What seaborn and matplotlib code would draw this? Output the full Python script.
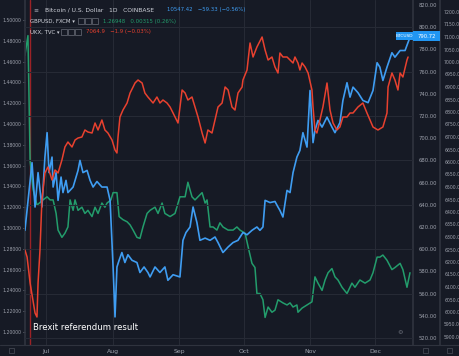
import matplotlib
matplotlib.use("Agg")
import matplotlib.pyplot as plt
import seaborn as sns
import numpy as np
from matplotlib.lines import Line2D
from matplotlib.patches import Rectangle, Circle

# ---------------- data (x = days relative to 1 Jul 2016) ----------------
btc_day = [-9.8, -6.5, -5.1, -3.7, -1.9, -0.5, 0.5, 1.4, 2.8, 3.3, 4.7, 5.6, 7.0, 7.9, 9.3, 10.2,
           12.6, 14.9, 15.8, 17.2, 19.1, 20.5, 21.9, 23.7, 26.0, 28.4, 29.8, 31.2, 32.1, 33.0, 34.0,
           35.3, 36.7, 38.1, 40.0, 42.3, 43.7, 45.6, 47.4, 48.4, 50.7, 53.0, 55.3, 56.7, 59.1, 62.3,
           63.7, 65.1, 67.0, 68.4, 70.2, 71.6, 74.0, 76.3, 78.6, 80.0, 82.3, 84.7, 87.0, 89.3, 91.6,
           93.5, 95.8, 98.1, 99.5, 100.9, 101.9, 104.2, 106.5, 107.9, 108.8, 110.2, 112.1, 113.5,
           114.9, 116.7, 118.1, 119.5, 121.4, 122.8, 124.2, 125.1, 126.5, 128.4, 130.7, 133.0, 134.4,
           136.7, 138.1, 140.0, 141.4, 142.8, 145.1, 147.4, 149.8, 152.1, 154.0, 155.3, 156.7, 158.6,
           160.9, 162.3, 164.7, 167.0, 169.3]
btc_usd = [617, 678, 638, 669, 638, 683, 705, 669, 683, 656, 669, 644, 665, 651, 662, 651,
           656, 671, 680, 669, 671, 662, 656, 661, 656, 656, 644, 584, 539, 584, 590,
           597, 588, 595, 590, 588, 579, 584, 579, 575, 584, 579, 584, 572, 577, 575,
           608, 615, 620, 638, 624, 608, 610, 608, 611, 606, 597, 602, 606, 608, 615,
           613, 617, 620, 617, 620, 644, 642, 643, 638, 635, 629, 653, 651,
           669, 683, 689, 705, 692, 743, 696, 707, 716, 710, 719, 710, 705,
           714, 734, 750, 737, 746, 741, 734, 732, 743, 768, 764, 752, 764,
           777, 773, 779, 779, 791]

gbp_day = [-9.8, -8.4, -7.4, -6.0, -4.2, -1.4, 0.5, 1.9, 3.3, 4.7, 5.6, 7.4, 8.8, 10.2, 11.2,
           12.6, 13.5, 14.9, 16.7, 18.1, 19.5, 21.4, 22.8, 24.2, 26.0, 27.4, 28.4, 30.2, 31.2,
           33.0, 34.0, 35.8, 37.7, 39.1, 40.5, 42.3, 43.7, 45.1, 47.0, 48.4, 50.7, 52.1, 54.0,
           55.3, 57.7, 60.0, 62.3, 64.7, 66.0, 67.9, 69.3, 70.7, 72.6, 74.0, 74.9, 76.3, 77.7,
           79.5, 80.9, 82.3, 84.7, 87.0, 88.8, 90.2, 92.6, 94.0, 95.8, 97.2, 98.1, 99.5, 100.9,
           101.9, 103.3, 105.1, 106.5, 107.9, 110.2, 112.1, 113.5, 114.9, 116.7, 117.2, 119.1,
           121.4, 123.7, 125.1, 126.5, 128.4, 129.8, 131.2, 133.0, 134.4, 135.8, 137.7, 140.0,
           142.3, 143.7, 146.0, 148.4, 150.7, 152.1, 154.0, 155.3, 156.7, 158.6, 160.9, 162.3,
           164.7, 166.0, 167.9, 169.3]
gbp_usd = [1.466, 1.485, 1.365, 1.337, 1.322, 1.327, 1.330, 1.327, 1.327, 1.314, 1.298, 1.291, 1.295, 1.301, 1.327,
           1.317, 1.327, 1.317, 1.320, 1.314, 1.317, 1.311, 1.320, 1.314, 1.324, 1.320, 1.324, 1.327, 1.334,
           1.334, 1.311, 1.308, 1.306, 1.303, 1.298, 1.291, 1.290, 1.301, 1.314, 1.317, 1.320, 1.314, 1.324,
           1.314, 1.311, 1.314, 1.330, 1.330, 1.344, 1.330, 1.327, 1.330, 1.334, 1.324, 1.327, 1.301, 1.301,
           1.298, 1.305, 1.301, 1.298, 1.298, 1.301, 1.298, 1.295, 1.282, 1.266, 1.262, 1.237, 1.237, 1.231,
           1.214, 1.224, 1.219, 1.221, 1.231, 1.228, 1.226, 1.228, 1.224, 1.226, 1.219, 1.223,
           1.226, 1.229, 1.253, 1.247, 1.240, 1.250, 1.257, 1.261, 1.253, 1.250, 1.243, 1.237,
           1.247, 1.243, 1.250, 1.247, 1.250, 1.257, 1.272, 1.272, 1.274, 1.269, 1.260, 1.262,
           1.266, 1.260, 1.243, 1.257]

ukx_day = [-9.8, -8.8, -7.4, -5.1, -4.2, -3.7, -2.8, -1.9, -0.5, 0.9, 2.8, 4.2, 5.6, 7.4, 8.8, 10.2,
           12.1, 13.5, 14.9, 16.7, 18.1, 19.5, 21.4, 22.8, 24.2, 26.0, 27.4, 28.8, 30.7, 32.1, 33.0,
           33.5, 34.4, 35.8, 37.7, 39.1, 40.5, 41.4, 42.8, 44.7, 46.0, 47.4, 49.8, 51.6, 53.0, 54.4,
           56.3, 57.7, 59.1, 61.4, 63.3, 64.7, 66.0, 67.9, 69.3, 70.7, 72.6, 74.0, 75.3, 77.2, 78.6,
           80.0, 81.9, 83.3, 84.7, 86.5, 87.9, 89.3, 91.2, 91.6, 93.5, 94.9, 96.3, 98.1, 100.5, 101.9,
           103.3, 105.1, 106.5, 107.9, 108.8, 110.2, 112.1, 113.5, 114.9, 115.8, 117.2, 118.1, 119.1,
           120.5, 121.9, 123.7, 124.2, 125.1, 126.0, 127.4, 128.8, 130.7, 132.1, 133.5, 135.3, 136.7,
           138.1, 140.0, 141.4, 142.8, 145.1, 147.4, 149.3, 150.7, 152.1, 154.4, 156.7, 158.6, 159.1,
           160.9, 162.3, 163.7, 164.7, 166.0, 167.9, 168.4]
ukx = [6248, 6220, 6116, 5996, 5980, 6116, 6248, 6448, 6556, 6580, 6528, 6568, 6556, 6608, 6660, 6680,
       6660, 6688, 6696, 6700, 6728, 6720, 6716, 6756, 6728, 6768, 6728, 6716, 6688, 6648, 6636,
       6700, 6780, 6808, 6836, 6876, 6900, 6916, 6928, 6916, 6876, 6860, 6836, 6860, 6836, 6848,
       6836, 6820, 6796, 6756, 6888, 6876, 6848, 6860, 6820, 6780, 6716, 6676, 6728, 6716, 6768,
       6820, 6836, 6900, 6888, 6820, 6808, 6876, 6900, 6928, 6968, 7076, 7020, 7060, 7100, 7048,
       7008, 7020, 6980, 6956, 7036, 7020, 7020, 7008, 6996, 7020, 6996, 6968, 6996,
       6980, 6956, 6888, 6820, 6728, 6716, 6768, 6820, 6916, 6808, 6756, 6728, 6740,
       6780, 6780, 6796, 6796, 6820, 6836, 6796, 6768, 6740, 6728, 6740, 6796, 6900,
       6956, 6928, 6888, 6956, 6940, 7008, 7020]

month_ticks = [0, 31, 62, 92, 123, 153]
month_labels = ["Jul", "Aug", "Sep", "Oct", "Nov", "Dec"]
brexit_day = -7.5

gbp_ticks = [1.20 + 0.02 * i for i in range(16)]
btc_ticks = list(range(520, 821, 20))
ukx_ticks = list(range(5900, 7201, 50))

# ---------------- styling ----------------
BG = "#161a25"
GRID = "#262a35"
TXT = "#9ea2ad"
BLUE = "#3f9df2"
RED = "#e8412f"
GREEN = "#239d6c"

sns.set_theme(style="dark")
plt.rcParams['font.family'] = ['DejaVu Sans']

fig = plt.figure(figsize=(4.6, 3.56), dpi=100, facecolor=BG)
W, H = 460, 356
ax = fig.add_axes([25 / W, 11 / H, 388 / W, 345 / H])
ax.set_facecolor(BG)
ax2 = ax.twinx()
ax3 = ax.twinx()
for a in (ax2, ax3):
    a.set_facecolor("none")

# gridlines
for m in month_ticks:
    ax.axvline(m, color=GRID, lw=0.8, zorder=0)
for v in range(520, 821, 40):
    ax2.axhline(v, color=GRID, lw=0.8, zorder=0)

# brexit marker
ax.axvline(brexit_day, color="#9b2226", lw=1.0, zorder=1)

sns.lineplot(x=gbp_day, y=gbp_usd, ax=ax, color=GREEN, lw=1.1, estimator=None, sort=False)
sns.lineplot(x=ukx_day, y=ukx, ax=ax3, color=RED, lw=1.1, estimator=None, sort=False)
sns.lineplot(x=btc_day, y=btc_usd, ax=ax2, color=BLUE, lw=1.2, estimator=None, sort=False)

ax.set_xlim(-9.77, 170.7)
ax.set_ylim(1.5 - 325 * 0.30 / 312, 1.5 + 20 * 0.30 / 312)
ax2.set_ylim(820 - 340 * 300 / 333, 820 + 5 * 300 / 333)
ax3.set_ylim(7200 - 333 * 4, 7200 + 12 * 4)

ax.set_xticks(month_ticks)
ax.set_xticklabels(month_labels)
ax.set_yticks(gbp_ticks)
ax.set_yticklabels([f"{t:.5f}" for t in gbp_ticks])
ax2.set_yticks(btc_ticks)
ax2.set_yticklabels([f"{t:.2f}" for t in btc_ticks])
ax3.set_yticks(ukx_ticks)
ax3.set_yticklabels([f"{t:.1f}" for t in ukx_ticks])

for a in (ax, ax2, ax3):
    a.set_xlabel("")
    a.set_ylabel("")
    a.grid(False)
    for s in a.spines.values():
        s.set_visible(False)

ax.tick_params(axis="x", colors=TXT, labelsize=4.4, length=0, pad=3)
ax.tick_params(axis="y", colors=TXT, labelsize=3.3, length=1.5, width=0.5, pad=1.2)
ax2.tick_params(axis="y", colors=TXT, labelsize=3.8, length=0, pad=4)
ax3.tick_params(axis="y", colors=TXT, labelsize=3.3, length=0, pad=3)
ax3.spines["right"].set_position(("axes", 415 / 388))

ax.spines["left"].set_visible(True)
ax.spines["left"].set_color("#2f333e")
ax.spines["right"].set_visible(True)
ax.spines["right"].set_color("#2f333e")
ax3.spines["right"].set_visible(True)
ax3.spines["right"].set_color("#2f333e")

# bottom separator
fig.add_artist(Line2D([0, 1], [11 / H, 11 / H], color="#2f333e", lw=0.8))

# legend header
fy = lambda y: 1 - y / H
fig.text(45 / W, fy(10), "Bitcoin / U.S. Dollar   1D   COINBASE", color="#d1d4dc",
         fontsize=4.3, va="center", ha="left")
fig.text(33 / W, fy(10), "\u2261", color=TXT, fontsize=4.3, va="center")
fig.text(167 / W, fy(10), "10547.42   \u221259.33 (\u22120.56%)", color=BLUE,
         fontsize=3.9, va="center", ha="left")
fig.text(30 / W, fy(21), "GBPUSD, FXCM \u25be", color="#d1d4dc", fontsize=3.9, va="center")
fig.text(103 / W, fy(21), "1.26948   0.00315 (0.26%)", color=GREEN, fontsize=3.9, va="center")
fig.text(30 / W, fy(32), "UKX, TVC \u25be", color="#d1d4dc", fontsize=3.9, va="center")
fig.text(86 / W, fy(32), "7064.9   \u22121.9 (\u22120.03%)", color=RED, fontsize=3.9, va="center")
for (x0, y0) in [(78, 21), (85, 21), (92, 21), (61, 32), (68, 32), (75, 32)]:
    fig.add_artist(Rectangle((x0 / W, fy(y0 + 3)), 6 / W, 6 / H, fill=False,
                             ec="#6a6e79", lw=0.5))

# price tags
fig.add_artist(Rectangle((396 / W, fy(40)), 17 / W, 8 / H, color="#2196f3", lw=0))
fig.text(404.5 / W, fy(36), "BTCUSD", color="white", fontsize=3.2, ha="center", va="center")
fig.add_artist(Rectangle((413 / W, fy(41)), 27 / W, 10 / H, color="#2196f3", lw=0, zorder=5))
fig.text(426.5 / W, fy(36), "790.72", color="white", fontsize=3.8, ha="center", va="center",
         zorder=6)

# small UI icons
fig.text(400 / W, fy(333), "\u2699", color="#6a6e79", fontsize=4.5, ha="center", va="center")
for xc in (12, 426, 450):
    fig.add_artist(Rectangle(((xc - 2.5) / W, fy(353)), 5 / W, 5 / H, fill=False,
                             ec="#4a4e59", lw=0.5))

# annotation
ax.text(8 / 388, 18 / 345, "Brexit referendum result", transform=ax.transAxes,
        color="white", fontsize=6.1, ha="left", va="center")

fig.savefig("out.png", dpi=100, facecolor=BG)
